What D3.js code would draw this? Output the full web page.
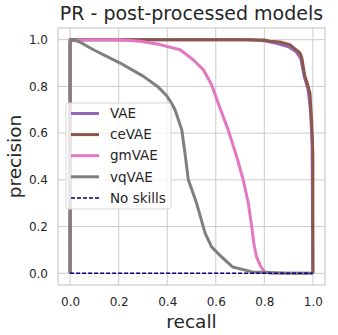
<!DOCTYPE html>
<html>
<head>
<meta charset="utf-8">
<script src="https://cdn.jsdelivr.net/npm/d3@7"></script>
<style>
  body { margin: 0; background: #fff; }
  text { font-family: "DejaVu Sans", sans-serif; fill: #262626; }
</style>
</head>
<body>
<div id="chart"></div>
<script>
// precision / recall points
var vaeRecall    = [0, 0, 0.72, 0.80, 0.85, 0.90, 0.93, 0.95, 0.965, 0.98, 0.99, 0.995, 0.997, 1.0];
var vaePrecision = [0, 1, 1.0, 0.995, 0.985, 0.97, 0.95, 0.92, 0.84, 0.79, 0.70, 0.60, 0.54, 0];

var cevaeRecall    = [0, 0, 0.75, 0.80, 0.823, 0.864, 0.905, 0.92, 0.947, 0.955, 0.967, 0.975, 0.988, 0.994, 0.998, 1.0, 1.0];
var cevaePrecision = [0, 1, 1.0, 0.999, 0.993, 0.99, 0.979, 0.966, 0.943, 0.92, 0.843, 0.82, 0.771, 0.67, 0.571, 0.5, 0];

var gmvaeRecall    = [0, 0, 0.05, 0.2, 0.288, 0.37, 0.453, 0.507, 0.549, 0.583, 0.61, 0.651, 0.686, 0.713, 0.734, 0.748, 0.758, 0.768, 0.785, 0.802, 0.83, 1.0];
var gmvaePrecision = [0, 0.995, 1.0, 1.0, 0.993, 0.979, 0.957, 0.914, 0.871, 0.807, 0.728, 0.614, 0.50, 0.40, 0.30, 0.20, 0.12, 0.07, 0.03, 0.006, 0, 0];

var vqvaeRecall    = [0, 0, 0.012, 0.04, 0.096, 0.206, 0.302, 0.36, 0.398, 0.418, 0.432, 0.46, 0.473, 0.487, 0.521, 0.556, 0.583, 0.624, 0.67, 0.75, 0.82, 0.9, 1.0];
var vqvaePrecision = [0, 0.99, 1.0, 0.99, 0.957, 0.90, 0.843, 0.80, 0.76, 0.728, 0.70, 0.614, 0.515, 0.40, 0.30, 0.172, 0.113, 0.07, 0.027, 0.006, 0.003, 0, 0];

var noSkillRecall    = [0, 1];
var noSkillPrecision = [0, 0];

var seriesNames  = ["VAE", "ceVAE", "gmVAE", "vqVAE"];
var seriesColors = ["#9467bd", "#8c564b", "#e377c2", "#7f7f7f"];
var tickValues   = [0, 0.2, 0.4, 0.6, 0.8, 1.0];

function zip(xs, ys) {
  return xs.map(function(x, i) { return {r: x, p: ys[i]}; });
}

var series = [
  zip(vaeRecall, vaePrecision),
  zip(cevaeRecall, cevaePrecision),
  zip(gmvaeRecall, gmvaePrecision),
  zip(vqvaeRecall, vqvaePrecision)
];

var W = 338, H = 335;
var m = {left: 58, right: 325, top: 28, bottom: 285};

var svg = d3.select("#chart").append("svg")
    .attr("width", W)
    .attr("height", H);

var x = d3.scaleLinear().domain([-0.05, 1.05]).range([m.left, m.right]);
var y = d3.scaleLinear().domain([-0.05, 1.05]).range([m.bottom, m.top]);

// grid
svg.append("g").selectAll("line").data(tickValues).enter().append("line")
    .attr("x1", function(d) { return x(d); })
    .attr("x2", function(d) { return x(d); })
    .attr("y1", m.top).attr("y2", m.bottom)
    .attr("stroke", "#cccccc").attr("stroke-width", 1);
svg.append("g").selectAll("line").data(tickValues).enter().append("line")
    .attr("y1", function(d) { return y(d); })
    .attr("y2", function(d) { return y(d); })
    .attr("x1", m.left).attr("x2", m.right)
    .attr("stroke", "#cccccc").attr("stroke-width", 1);

// axes (labels only, seaborn whitegrid style)
var xAxis = svg.append("g")
    .attr("transform", "translate(0," + m.bottom + ")")
    .call(d3.axisBottom(x).tickValues(tickValues).tickFormat(d3.format(".1f")).tickSize(0).tickPadding(12));
var yAxis = svg.append("g")
    .attr("transform", "translate(" + m.left + ",0)")
    .call(d3.axisLeft(y).tickValues(tickValues).tickFormat(d3.format(".1f")).tickSize(0).tickPadding(10));
[xAxis, yAxis].forEach(function(a) {
  a.select(".domain").remove();
  a.selectAll("text").attr("font-size", 12).attr("font-family", "DejaVu Sans").attr("fill", "#262626");
});

// frame
svg.append("rect")
    .attr("x", m.left).attr("y", m.top)
    .attr("width", m.right - m.left).attr("height", m.bottom - m.top)
    .attr("fill", "none").attr("stroke", "#cccccc").attr("stroke-width", 1.2);

var line = d3.line()
    .x(function(d) { return x(d.r); })
    .y(function(d) { return y(d.p); });

svg.append("g").selectAll("path").data(series).enter().append("path")
    .attr("d", line)
    .attr("fill", "none")
    .attr("stroke", function(d, i) { return seriesColors[i]; })
    .attr("stroke-width", 3)
    .attr("stroke-linejoin", "round");

svg.append("path")
    .attr("d", line(zip(noSkillRecall, noSkillPrecision)))
    .attr("fill", "none")
    .attr("stroke", "#000080")
    .attr("stroke-width", 1.5)
    .attr("stroke-dasharray", "4,2");

// titles
svg.append("text")
    .attr("x", (m.left + m.right) / 2).attr("y", 20)
    .attr("text-anchor", "middle").attr("font-size", 19)
    .text("PR - post-processed models");
svg.append("text")
    .attr("x", (m.left + m.right) / 2).attr("y", 328)
    .attr("text-anchor", "middle").attr("font-size", 18.5)
    .text("recall");
svg.append("text")
    .attr("transform", "translate(21," + ((m.top + m.bottom) / 2) + ") rotate(-90)")
    .attr("text-anchor", "middle").attr("font-size", 18.5)
    .text("precision");

// legend
var legend = svg.append("g").attr("transform", "translate(66,103)");
legend.append("rect")
    .attr("width", 105).attr("height", 106)
    .attr("rx", 3)
    .attr("fill", "#fff").attr("fill-opacity", 0.8)
    .attr("stroke", "#d6d6d6");

var legendItems = seriesNames.map(function(n, i) {
  return {name: n, color: seriesColors[i], dash: null, width: 3};
});
legendItems.push({name: "No skills", color: "#000080", dash: "4,2", width: 1.5});

var item = legend.selectAll(".item").data(legendItems).enter().append("g")
    .attr("class", "item")
    .attr("transform", function(d, i) { return "translate(0," + (10.5 + i * 21.1) + ")"; });
item.append("line")
    .attr("x1", 5).attr("x2", 33)
    .attr("stroke", function(d) { return d.color; })
    .attr("stroke-width", function(d) { return d.width; })
    .attr("stroke-dasharray", function(d) { return d.dash; });
item.append("text")
    .attr("x", 44).attr("dy", "0.35em")
    .attr("font-size", 13.5)
    .text(function(d) { return d.name; });
</script>
</body>
</html>
